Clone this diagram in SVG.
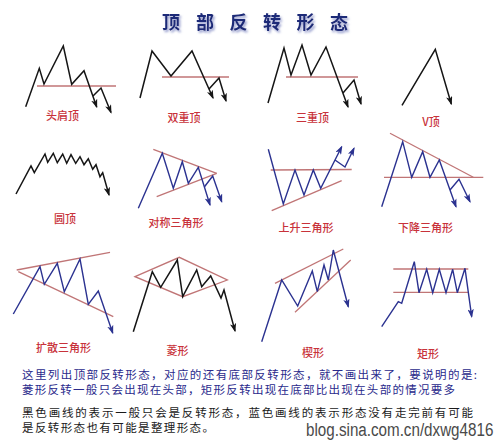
<svg xmlns="http://www.w3.org/2000/svg" width="500" height="445" viewBox="0 0 500 445">
<defs>
<style>
.k{fill:none;stroke:#151515;stroke-width:1.5;stroke-linejoin:miter}
.b{fill:none;stroke:#2b3290;stroke-width:1.4;stroke-linejoin:miter}
.r{fill:none;stroke:#c07576;stroke-width:1.3}
.ka{marker-end:url(#ak)}
.ba{marker-end:url(#ab)}
.lbl{font-family:"Noto Sans CJK SC","Noto Sans",sans-serif;font-size:11px;fill:#c8323a;text-anchor:middle;font-weight:500}
.note{font-family:"Noto Sans CJK SC","Noto Sans",sans-serif}
</style>
<marker id="ak" viewBox="0 0 10 7" refX="8.5" refY="3.5" markerWidth="9" markerHeight="6.5" markerUnits="userSpaceOnUse" orient="auto"><path d="M0,0 L10,3.5 L0,7 L2.5,3.5 z" fill="#151515"/></marker>
<marker id="ab" viewBox="0 0 10 7" refX="8.5" refY="3.5" markerWidth="9" markerHeight="6.5" markerUnits="userSpaceOnUse" orient="auto"><path d="M0,0 L10,3.5 L0,7 L2.5,3.5 z" fill="#2b3290"/></marker>
<filter id="sh" x="-10%" y="-30%" width="130%" height="180%"><feDropShadow dx="1.5" dy="2" stdDeviation="1.2" flood-color="#8a93c8" flood-opacity="0.9"/></filter>
</defs>
<rect width="500" height="445" fill="#ffffff"/>

<g id="title">
<text x="162 196 229.5 263 296.5 330" y="29" font-family="'Noto Sans CJK SC',sans-serif" font-size="18" font-weight="bold" fill="#1d2a78" filter="url(#sh)">顶部反转形态</text>
</g>

<g id="head-shoulders">
<line class="r" x1="37" y1="86" x2="116" y2="86"/>
<polyline class="k ka" points="25.7,106.7 39.3,68.3 44,84 63.3,46 71.7,84.3 84,70.7 96.7,107"/>
<polyline class="k ka" points="93,96 101,88 111,112.5"/>
<text class="lbl" x="62.5" y="120">头肩顶</text>
</g>

<g id="double-top">
<line class="r" x1="162" y1="77" x2="229" y2="77"/>
<polyline class="k ka" points="140,98 152,51 171,76 192,51 213,98"/>
<polyline class="k ka" points="209,89 219,78 226,101"/>
<text class="lbl" x="184" y="122">双重顶</text>
</g>

<g id="triple-top">
<line class="r" x1="286" y1="77" x2="358" y2="77"/>
<polyline class="k ka" points="268,103 284,48 291,75 302,45 311,75 326,47 348,107"/>
<polyline class="k ka" points="343,93 354,80 361,104"/>
<text class="lbl" x="312.5" y="122">三重顶</text>
</g>

<g id="v-top">
<polyline class="k ka" points="402,105.3 435.3,49.3 451.3,104"/>
<text class="lbl" x="431" y="126">V顶</text>
</g>

<g id="round-top">
<polyline class="k ka" points="16,194 31,166 34.3,172.7 45,154 47.7,162.3 53.3,153.3 57.3,162.7 62.7,154 66.7,163.3 71,154.7 75.7,163.3 80,156.7 84,164.7 88.3,158.7 92.7,169.3 96,164.7 100,176.7 102.7,172.7 109,195"/>
<text class="lbl" x="65" y="223">圆顶</text>
</g>

<g id="symmetric-triangle">
<line class="r" x1="153.3" y1="149.3" x2="216.7" y2="173.3"/>
<line class="r" x1="156.7" y1="196.7" x2="216.7" y2="173.3"/>
<polyline class="b ba" points="138.3,208.3 162.3,153.3 173.3,188.3 182.3,161.7 188.3,183.3 198.3,167.3 210,205"/>
<polyline class="b ba" points="204.5,186.7 212.7,176 221.7,201.7"/>
<text class="lbl" x="176" y="227">对称三角形</text>
</g>

<g id="ascending-triangle">
<line class="r" x1="270.7" y1="170" x2="351.7" y2="169.5"/>
<line class="r" x1="271.7" y1="210.7" x2="341.7" y2="180.7"/>
<polyline class="b ba" points="268.3,149.3 283.3,204 295,170 304,195 313.3,170 320.7,188.3 341.7,146.7"/>
<polyline class="b ba" points="335,160 345,167 354,148.3"/>
<text class="lbl" x="306" y="232">上升三角形</text>
</g>

<g id="descending-triangle">
<line class="r" x1="390" y1="133.3" x2="473.3" y2="177.3"/>
<line class="r" x1="384" y1="177.3" x2="483.3" y2="177.3"/>
<polyline class="b ba" points="381.7,206.7 402.7,141.7 411.7,177.3 422.7,151.7 430,177.3 439.3,160 456,206.7"/>
<polyline class="b ba" points="450,190 459,179.3 470,201.7"/>
<text class="lbl" x="425.5" y="232">下降三角形</text>
</g>

<g id="broadening-triangle">
<line class="r" x1="16.7" y1="270" x2="110" y2="252.3"/>
<line class="r" x1="18.3" y1="271.7" x2="113.3" y2="316.7"/>
<polyline class="b ba" points="13.3,314 40,266.7 44.3,284.3 57.3,263.3 64.3,291.7 80,259 88.3,304.3 98.3,291 112.7,333"/>
<text class="lbl" x="63.5" y="351.5">扩散三角形</text>
</g>

<g id="diamond">
<polygon class="r" points="135,276.7 179.3,257.3 227.3,280 182.7,296.7"/>
<polyline class="k ka" points="133.3,331.7 152.3,271.7 160.7,287.3 177.3,260 182.7,296.7 196.7,270 201.7,286.7 210.7,276 221,298 224,290 235,331"/>
<text class="lbl" x="177.5" y="355">菱形</text>
</g>

<g id="wedge">
<line class="r" x1="275" y1="283.3" x2="343.3" y2="249"/>
<line class="r" x1="295" y1="312.3" x2="350.7" y2="260"/>
<polyline class="b ba" points="261.7,341.7 281.7,280 297.7,306 312.3,271 317.3,291.7 324,265 328.3,280 333.3,250 348.3,306.7"/>
<text class="lbl" x="313" y="356.5">楔形</text>
</g>

<g id="rectangle">
<line class="r" x1="393.3" y1="269" x2="468.3" y2="269"/>
<line class="r" x1="393.3" y1="292.3" x2="468.3" y2="292.3"/>
<polyline class="b ba" points="381.7,326.7 398.3,301.7 401.7,303.3 414.3,261.7 419,292.7 426.7,269.3 432.7,292.7 439.3,269.3 446,292.7 452.7,269.3 457.3,292.7 465,268.3 471.7,316.7"/>
<text class="lbl" x="428" y="358">矩形</text>
</g>

<g id="notes">
<text class="note" x="22" y="378.5" font-size="11.5" fill="#2a2a8c" textLength="455" lengthAdjust="spacing">这里列出顶部反转形态，对应的还有底部反转形态，就不画出来了，要说明的是:</text>
<text class="note" x="22" y="393.5" font-size="11.5" fill="#2a2a8c" textLength="433" lengthAdjust="spacing">菱形反转一般只会出现在头部，矩形反转出现在底部比出现在头部的情况要多</text>
<text class="note" x="22" y="416.5" font-size="11.5" fill="#1a1a1a" textLength="451" lengthAdjust="spacing">黑色画线的表示一般只会是反转形态，蓝色画线的表示形态没有走完前有可能</text>
<text class="note" x="22" y="431.5" font-size="11.5" fill="#1a1a1a" textLength="192" lengthAdjust="spacing">是反转形态也有可能是整理形态。</text>
<text transform="translate(306,436) scale(1,1.2)" x="0" y="0" font-family="'Liberation Sans',Arial,sans-serif" font-size="15.2" fill="#4a4a4a">blog.sina.com.cn/dxwg4816</text>
</g>
</svg>
